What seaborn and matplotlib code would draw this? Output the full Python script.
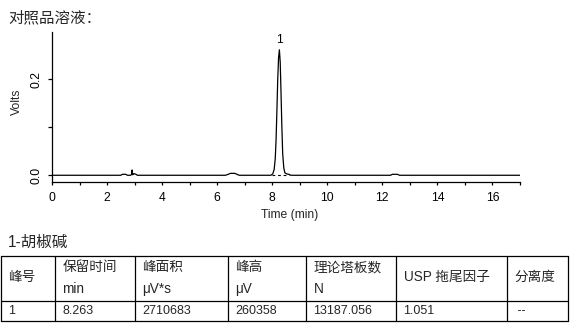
import numpy as np
import pandas as pd
import matplotlib
matplotlib.use("Agg")
import matplotlib.pyplot as plt
import seaborn as sns
from matplotlib.ticker import MultipleLocator
from matplotlib.lines import Line2D

# ---------------- data ----------------
time_min = [0.00, 2.50, 2.56, 2.62, 2.68, 2.74, 2.86, 2.89, 2.91, 2.93, 2.96, 3.00,
            3.05, 3.10, 6.30, 6.40, 6.48, 6.56, 6.64, 6.72, 6.80, 7.95, 8.02, 8.07,
            8.11, 8.14, 8.17, 8.20, 8.23, 8.26, 8.29, 8.32, 8.35, 8.38, 8.42, 8.46,
            8.52, 8.60, 8.68, 12.30, 12.36, 12.45, 12.55, 12.62, 17.00]
volts = [0.000, 0.000, 0.002, 0.002, 0.002, 0.000, 0.000, 0.002, 0.011, 0.001, 0.003, 0.003,
         0.002, 0.000, 0.000, 0.002, 0.004, 0.004, 0.004, 0.002, 0.000, 0.000, 0.003, 0.012,
         0.035, 0.075, 0.135, 0.200, 0.245, 0.261, 0.235, 0.170, 0.100, 0.045, 0.015, 0.005,
         0.003, 0.002, 0.000, 0.000, 0.002, 0.002, 0.002, 0.000, 0.000]

peak_labels = ["1"]
peak_times = [8.263]
peak_heights = [0.261]

baseline_start = [7.98]
baseline_end = [8.60]

title_text = "对照品溶液："
table_title = "1-胡椒碱"
header_line1 = ["峰号", "保留时间", "峰面积", "峰高", "理论塔板数", "USP 拖尾因子", "分离度"]
header_line2 = ["", "min", "μV*s", "μV", "N", "", ""]
row_values = ["1", "8.263", "2710683", "260358", "13187.056", "1.051", " --"]

# ---------------- figure ----------------
sns.set_style("ticks")
plt.rcParams['font.family'] = ['Liberation Sans', 'Noto Sans CJK SC', 'DejaVu Sans']

W, H = 572, 326
fig = plt.figure(figsize=(W / 100, H / 100), dpi=100)

def fx(x):
    return x / W

def fy(y):
    return 1 - y / H

ax_l, ax_r, ax_t, ax_b = 52, 520, 32, 182
ax = fig.add_axes([fx(ax_l), fy(ax_b), (ax_r - ax_l) / W, (ax_b - ax_t) / H])

df = pd.DataFrame({"Time (min)": time_min, "Volts": volts})
sns.lineplot(data=df, x="Time (min)", y="Volts", ax=ax, color="black", linewidth=0.9,
             estimator=None, sort=False)

for s, e in zip(baseline_start, baseline_end):
    ax.plot([s, e], [0, 0], color="black", linewidth=0.8, linestyle=(0, (2.5, 2.5)))

for lab, t, h in zip(peak_labels, peak_times, peak_heights):
    ax.text(t, h + 0.008, lab, ha="center", va="bottom", fontsize=8.7, color="black")

ax.set_xlim(0, 17)
ax.set_ylim(-0.014, 0.298)
ax.xaxis.set_major_locator(MultipleLocator(2))
ax.xaxis.set_minor_locator(MultipleLocator(1))
ax.yaxis.set_major_locator(MultipleLocator(0.2))
ax.yaxis.set_minor_locator(MultipleLocator(0.1))
ax.yaxis.set_major_formatter(matplotlib.ticker.FormatStrFormatter("%.1f"))

for sp in ["top", "right"]:
    ax.spines[sp].set_visible(False)
for sp in ["left", "bottom"]:
    ax.spines[sp].set_linewidth(0.9)
    ax.spines[sp].set_color("black")

ax.tick_params(axis="x", which="both", direction="out", length=2.3, width=0.9,
               labelsize=8.7, pad=5, colors="black")
ax.tick_params(axis="y", which="both", direction="out", length=3, width=0.9,
               labelsize=8.7, pad=3.5, colors="black")
for lbl in ax.get_yticklabels():
    lbl.set_rotation(90)
    lbl.set_va("center")

ax.set_xlabel("Time (min)", fontsize=8.7)
ax.set_ylabel("Volts", fontsize=8.7)
ax.xaxis.set_label_coords((290 - ax_l) / (ax_r - ax_l), -(215 - ax_b) / (ax_b - ax_t))
ax.xaxis.label.set_va("center")
ax.yaxis.set_label_coords(-(ax_l - 17) / (ax_r - ax_l), (ax_b - 102) / (ax_b - ax_t))
ax.yaxis.label.set_va("center")
ax.grid(False)
ax.set_facecolor("white")

# ---------------- titles ----------------
cjk = ['Liberation Sans', 'Noto Sans CJK SC']
fig.text(fx(8), fy(17.5), title_text, fontsize=11.2, family=cjk, va="center", ha="left")
fig.text(fx(8), fy(242), table_title, fontsize=11.2, family=cjk, va="center", ha="left")

# ---------------- table ----------------
col_edges = [1, 55, 135, 228, 306, 396, 507, 568]
t_top, t_mid, t_bot = 256, 300.5, 320.5
lw = 0.9
def hline(y, x0, x1):
    fig.add_artist(Line2D([fx(x0), fx(x1)], [fy(y), fy(y)], color="black", linewidth=lw))
def vline(x, y0, y1):
    fig.add_artist(Line2D([fx(x), fx(x)], [fy(y0), fy(y1)], color="black", linewidth=lw))

for y in (t_top, t_mid, t_bot):
    hline(y, col_edges[0], col_edges[-1])
for x in col_edges:
    vline(x, t_top, t_bot)

pad = 7.5
for i, (h1, h2) in enumerate(zip(header_line1, header_line2)):
    x0 = col_edges[i] + pad
    if h2:
        fig.text(fx(x0), fy(267), h1, fontsize=9.8, family=cjk, va="center", ha="left")
        fig.text(fx(x0), fy(289), h2, fontsize=9.8, family=cjk, va="center", ha="left")
    else:
        fig.text(fx(x0), fy(276.5), h1, fontsize=9.8, family=cjk, va="center", ha="left")

for i, v in enumerate(row_values):
    fig.text(fx(col_edges[i] + pad), fy(311.5), v, fontsize=9, family=['Liberation Sans'],
             va="center", ha="left")

fig.savefig("out.png", dpi=100, facecolor="white")
